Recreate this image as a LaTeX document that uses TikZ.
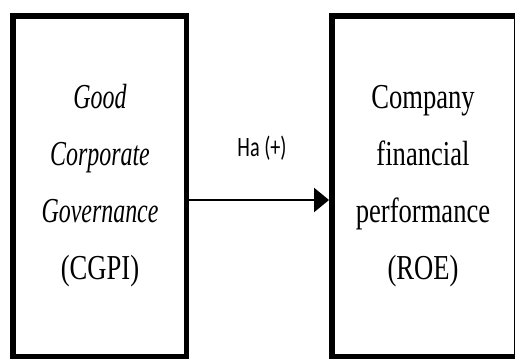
\documentclass[tikz,border=0pt]{standalone}
\usepackage{fontspec}
\usepackage{tikz}
\usetikzlibrary{arrows.meta}
\newfontfamily\boxfont{Liberation Serif}
\newfontfamily\labelfont{Carlito}
\newcommand{\slimit}[1]{\scalebox{0.9}[1]{\itshape #1}}

\begin{document}
\begin{tikzpicture}[x=1pt,y=-1pt,
  varbox/.style={draw,line width=5.5pt,minimum width=#1,minimum height=340.5pt,inner sep=0pt},
  vartext/.style={font=\boxfont\fontsize{35}{57}\selectfont,align=center,xscale=0.76},
  ]
\useasboundingbox (0,0) rectangle (515,360);

% the two variables
\node[varbox=173.5pt] (cgpi) at (99.5,186) {};
\node[varbox=185.25pt] (roe) at (424.4,186) {};

\node[vartext] (cgpitext) at (100,186) {\slimit{Good}\\ \slimit{Corporate}\\ \slimit{Governance}\\ (CGPI)};
\node[vartext] (roetext) at (423,186) {Company\\ financial\\ performance\\ (ROE)};

% hypothesis
\draw[line width=2.4pt,-{Triangle[length=15pt,width=24pt]}] ([yshift=-14pt]cgpi.east) -- ([yshift=-14pt]roe.west);
\node[font=\labelfont\fontsize{28}{30}\selectfont,xscale=0.72] (ha) at (262,148) {Ha (+)};
\end{tikzpicture}
\end{document}
